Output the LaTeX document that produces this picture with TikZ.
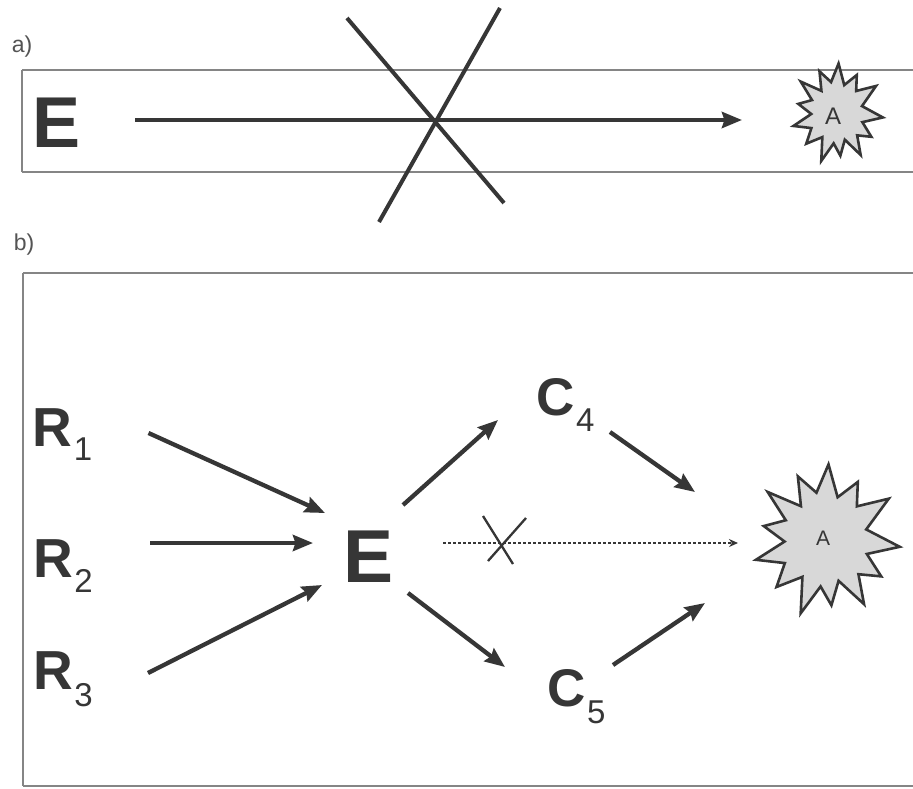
\documentclass[tikz,border=0pt]{standalone}
\usepackage{fontspec}
\setmainfont{Liberation Sans}
\usetikzlibrary{arrows.meta,calc}
\definecolor{ink}{HTML}{363636}
\definecolor{frame}{HTML}{858585}
\definecolor{burstfill}{HTML}{D8D8D8}
\newcommand\burstpath{(5:1.0) -- (18:0.58) -- (32:0.88) -- (45:0.62) -- (58:0.97) -- (72:0.55) -- (85:0.84) -- (97:0.6) -- (110:1.0) -- (124:0.57) -- (138:0.9) -- (152:0.63) -- (165:0.98) -- (178:0.56) -- (192:0.86) -- (205:0.6) -- (218:1.0) -- (232:0.55) -- (245:0.9) -- (258:0.62) -- (272:0.97) -- (286:0.57) -- (300:0.86) -- (314:0.6) -- (328:1.0) -- (346:0.56) -- cycle}
\tikzset{
  bigletter/.style={inner sep=0pt, text=ink, font=\fontsize{#1}{#1}\selectfont\bfseries},
  subdigit/.style={inner sep=0pt, anchor=base west, text=ink, font=\fontsize{33}{33}\selectfont},
  panel/.style={inner sep=0pt, text=ink!85, font=\fontsize{23}{23}\selectfont},
  atext/.style={inner sep=0pt, text=ink, font=\fontsize{#1}{#1}\selectfont},
  arr/.style={draw=ink, line width=4.3pt, -{Stealth[length=20pt,width=16pt,inset=2.5pt]}},
  dotarr/.style={draw=ink, line width=2.8pt, dash pattern=on 2.6pt off 2.4pt, -{Stealth[length=9pt,width=8pt]}},
  crossline/.style={draw=ink, line width=4pt},
  smallcross/.style={draw=ink, line width=2.3pt},
  box/.style={draw=frame, line width=1.5pt},
  burst/.style={fill=burstfill, draw=ink, line width=2.6pt, line join=miter}
}
\begin{document}
\begin{tikzpicture}[x=1pt,y=-1pt]
\useasboundingbox (0,0) rectangle (913,788);
\clip (0,0) rectangle (913,788);
\fill[white] (0,0) rectangle (913,788);

% panel labels
\node[panel] (la) at (22,47) {a)};
\node[panel] (lb) at (24,245) {b)};

% boxes
\draw[box] (22,70) -- (930,70) (22,172) -- (930,172) (22,70) -- (22,172);
\draw[box] (23,273) -- (930,273) (23,786) -- (930,786) (23,273) -- (23,786);

% ---------- panel a ----------
\node[bigletter=72] (Ea) at (57,122.5) {E};
\coordinate (Aa) at (837,113);
\begin{scope}[shift={(Aa)}, xscale=46, yscale=51]
  \filldraw[burst] \burstpath;
\end{scope}
\node[atext=24] (Ata) at (833,116) {A};
\draw[arr] ($(Ea)+(78,-2.5)$) -- ($(Aa)+(-95,7)$);
\coordinate (Xa) at (435,120);
\draw[crossline] ($(Xa)+(-88,-102)$) -- ($(Xa)+(69,83)$);
\draw[crossline] ($(Xa)+(65,-112)$) -- ($(Xa)+(-56,102)$);

% ---------- panel b ----------
\node[bigletter=55] (R1) at (52.5,427.5) {R};
\node[subdigit] (s1) at ($(R1.base east)+(1,14)$) {1};
\node[bigletter=55] (R2) at (53,558.5) {R};
\node[subdigit] (s2) at ($(R2.base east)+(1,15)$) {2};
\node[bigletter=55] (R3) at (53,671) {R};
\node[subdigit] (s3) at ($(R3.base east)+(1,17)$) {3};
\node[bigletter=75] (Eb) at (369,556.5) {E};
\node[bigletter=53] (C4) at (555.5,397.5) {C};
\node[subdigit] (s4) at ($(C4.base east)+(1,16)$) {4};
\node[bigletter=53] (C5) at (566.5,688) {C};
\node[subdigit] (s5) at ($(C5.base east)+(1,17)$) {5};

\coordinate (Ab) at (826,540);
\begin{scope}[shift={(Ab)}, xscale=74, yscale=78]
  \filldraw[burst] \burstpath;
\end{scope}
\node[atext=21] (Atb) at (823,538) {A};

\draw[arr] ($(R1)+(96,5.5)$) -- ($(Eb)+(-44,-43.5)$);
\draw[arr] ($(R2)+(97,-15.5)$) -- ($(Eb)+(-56,-13.5)$);
\draw[arr] ($(R3)+(95,2)$) -- ($(Eb)+(-47,28.5)$);
\draw[arr] ($(Eb)+(34,-51.5)$) -- ($(C4)+(-57.5,22.5)$);
\draw[arr] ($(Eb)+(39,36.5)$) -- ($(C5)+(-61.5,-21)$);
\draw[arr] ($(C4)+(54.5,34.5)$) -- ($(Ab)+(-131,-48)$);
\draw[arr] ($(C5)+(46.5,-23)$) -- ($(Ab)+(-121,63)$);
\draw[dotarr] ($(Eb)+(74,-13.5)$) -- ($(Ab)+(-88,3)$);
\coordinate (Xb) at (502,543);
\draw[smallcross] ($(Xb)+(-19,-27)$) -- ($(Xb)+(11,21)$);
\draw[smallcross] ($(Xb)+(24,-25)$) -- ($(Xb)+(-14,18)$);
\end{tikzpicture}
\end{document}
